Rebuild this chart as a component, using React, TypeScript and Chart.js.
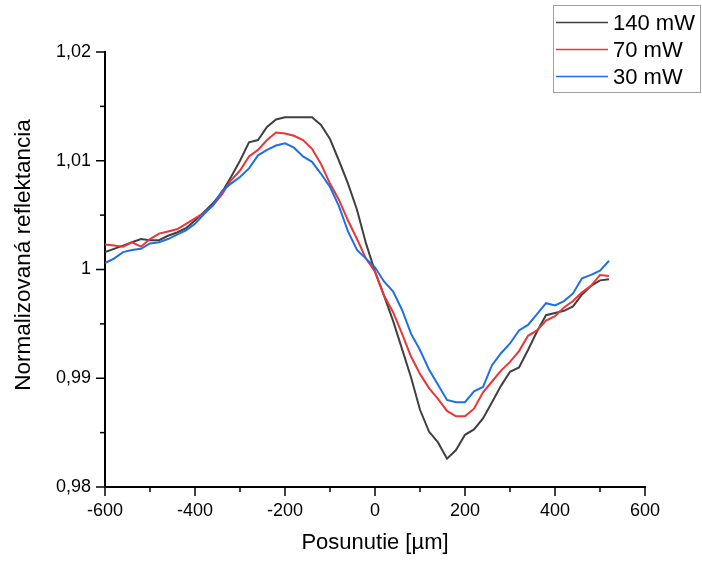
import React, { useEffect, useRef } from "react";
import { Chart, registerables } from "chart.js";

Chart.register(...registerables);

// Position (µm)
const posunutie = [
  -600, -580, -560, -540, -520, -500, -480, -460, -440, -420,
  -400, -380, -360, -340, -320, -300, -280, -260, -240, -220,
  -200, -180, -160, -140, -120, -100, -80, -60, -40, -20,
  0, 20, 40, 60, 80, 100, 120, 140, 160, 180,
  200, 220, 240, 260, 280, 300, 320, 340, 360, 380,
  400, 420, 440, 460, 480, 500, 520,
];

const seriesLabels = ["140 mW", "70 mW", "30 mW"];

const mw140 = [
  1.0016, 1.0019, 1.0022, 1.0025, 1.0028, 1.0027, 1.0027, 1.0031, 1.0034, 1.0038,
  1.0045, 1.0053, 1.0061, 1.0071, 1.0085, 1.0100, 1.0117, 1.0119, 1.0131, 1.0138,
  1.0140, 1.0140, 1.0140, 1.0140, 1.0133, 1.0120, 1.0100, 1.0079, 1.0055, 1.0024,
  0.9998, 0.9976, 0.9953, 0.9927, 0.9901, 0.9871, 0.9851, 0.9841, 0.9826, 0.9834,
  0.9848, 0.9853, 0.9863, 0.9878, 0.9893, 0.9906, 0.9910, 0.9926, 0.9943, 0.9958,
  0.9960, 0.9962, 0.9966, 0.9977, 0.9985, 0.9990, 0.9991,
];

const mw70 = [
  1.0023, 1.0022, 1.0021, 1.0025, 1.0021, 1.0028, 1.0033, 1.0035, 1.0037, 1.0042,
  1.0047, 1.0052, 1.0059, 1.0069, 1.0082, 1.0091, 1.0104, 1.0110, 1.0119, 1.0126,
  1.0125, 1.0123, 1.0119, 1.0111, 1.0097, 1.0079, 1.0064, 1.0045, 1.0028, 1.0010,
  0.9998, 0.9976, 0.9961, 0.9941, 0.9920, 0.9904, 0.9891, 0.9881, 0.9870, 0.9865,
  0.9865, 0.9872, 0.9887, 0.9897, 0.9907, 0.9915, 0.9925, 0.9939, 0.9944, 0.9953,
  0.9957, 0.9965, 0.9971, 0.9979, 0.9985, 0.9995, 0.9994,
];

const mw30 = [
  1.0006, 1.0010, 1.0016, 1.0018, 1.0019, 1.0024, 1.0025, 1.0028, 1.0032, 1.0036,
  1.0042, 1.0051, 1.0059, 1.0072, 1.0079, 1.0085, 1.0093, 1.0105, 1.0110, 1.0114,
  1.0116, 1.0112, 1.0104, 1.0099, 1.0088, 1.0076, 1.0058, 1.0035, 1.0018, 1.0010,
  1.0002, 0.9989, 0.9980, 0.9963, 0.9941, 0.9926, 0.9908, 0.9894, 0.9880, 0.9878,
  0.9878, 0.9888, 0.9892, 0.9912, 0.9923, 0.9932, 0.9944, 0.9949, 0.9959, 0.9969,
  0.9967, 0.9971, 0.9978, 0.9992, 0.9995, 0.9999, 1.0008,
];

const xTickValues = [-600, -500, -400, -300, -200, -100, 0, 100, 200, 300, 400, 500, 600];
const yTickValues = [0.98, 0.985, 0.99, 0.995, 1.0, 1.005, 1.01, 1.015, 1.02];

const xTitle = "Posunutie [µm]";
const yTitle = "Normalizovaná reflektancia";

const FONT = "'Liberation Sans', Arial, sans-serif";
const COLORS = ["#404040", "#ec3535", "#1f6fe6"];

const fmtY = (v: number) => {
  if (Math.abs(v - 1) < 1e-9) return "1";
  return v.toFixed(2).replace(".", ",");
};

const tickPlugin = {
  id: "axisTicks",
  afterDraw(chart: any) {
    const { ctx, chartArea } = chart;
    const xs = chart.scales.x;
    const ys = chart.scales.y;
    ctx.save();
    ctx.strokeStyle = "#000";
    ctx.lineWidth = 1.5;
    xTickValues.forEach((v) => {
      const px = xs.getPixelForValue(v);
      const major = Math.round(v) % 200 === 0;
      ctx.beginPath();
      ctx.moveTo(px, chartArea.bottom);
      ctx.lineTo(px, chartArea.bottom + (major ? 9 : 5));
      ctx.stroke();
    });
    yTickValues.forEach((v, i) => {
      const py = ys.getPixelForValue(v);
      const major = i % 2 === 0;
      ctx.beginPath();
      ctx.moveTo(chartArea.left, py);
      ctx.lineTo(chartArea.left - (major ? 9 : 5), py);
      ctx.stroke();
    });
    ctx.restore();
  },
};

const yTitlePlugin = {
  id: "yTitle",
  afterDraw(chart: any) {
    const { ctx } = chart;
    ctx.save();
    ctx.translate(29.5, 255);
    ctx.rotate(-Math.PI / 2);
    ctx.font = `22.5px ${FONT}`;
    ctx.fillStyle = "#000";
    ctx.textAlign = "center";
    ctx.textBaseline = "alphabetic";
    ctx.fillText(yTitle, 0, 0);
    ctx.restore();
  },
};

const legendPlugin = {
  id: "boxLegend",
  afterDraw(chart: any) {
    const { ctx } = chart;
    const left = 553.5;
    const top = 5.5;
    const w = 147;
    const h = 87;
    ctx.save();
    ctx.strokeStyle = "#a0a0a0";
    ctx.lineWidth = 1;
    ctx.strokeRect(left, top, w, h);
    ctx.font = `22px ${FONT}`;
    ctx.textAlign = "left";
    ctx.textBaseline = "middle";
    chart.data.datasets.forEach((ds: any, i: number) => {
      const cy = 22.5 + i * 27;
      ctx.strokeStyle = ds.borderColor;
      ctx.lineWidth = 1.5;
      ctx.beginPath();
      ctx.moveTo(556, cy);
      ctx.lineTo(608, cy);
      ctx.stroke();
      ctx.fillStyle = "#000";
      ctx.fillText(ds.label, 613, cy + 1);
    });
    ctx.restore();
  },
};

export default function App() {
  const ref = useRef<HTMLCanvasElement | null>(null);

  useEffect(() => {
    if (!ref.current) return;
    const series = [mw140, mw70, mw30];
    const chart = new Chart(ref.current, {
      type: "line",
      data: {
        datasets: series.map((arr, i) => ({
          label: seriesLabels[i],
          data: posunutie.map((x, j) => ({ x, y: arr[j] })),
          borderColor: COLORS[i],
          backgroundColor: COLORS[i],
          borderWidth: 2,
          pointRadius: 0,
          tension: 0,
          fill: false,
          order: 2 - i,
        })),
      },
      options: {
        responsive: false,
        animation: false,
        devicePixelRatio: 1,
        layout: { padding: { top: 52, right: 57, left: 0, bottom: 0 } },
        plugins: {
          legend: { display: false },
          tooltip: { enabled: false },
        },
        scales: {
          x: {
            type: "linear",
            min: -600,
            max: 600,
            grid: { display: false, drawTicks: false },
            border: { display: true, color: "#000", width: 2 },
            ticks: {
              stepSize: 200,
              padding: 13,
              color: "#000",
              font: { family: FONT, size: 18 },
              maxRotation: 0,
              callback: (v: any) => String(v),
            },
            title: {
              display: true,
              text: xTitle,
              color: "#000",
              font: { family: FONT, size: 22 },
              padding: { top: 0, bottom: 5 },
            },
            afterFit: (s: any) => {
              s.height = 74;
            },
          },
          y: {
            type: "linear",
            min: 0.98,
            max: 1.02,
            grid: { display: false, drawTicks: false },
            border: { display: true, color: "#000", width: 2 },
            ticks: {
              stepSize: 0.01,
              padding: 14,
              color: "#000",
              font: { family: FONT, size: 18 },
              callback: (v: any) => fmtY(Number(v)),
            },
            afterFit: (s: any) => {
              s.width = 105;
            },
          },
        },
      },
      plugins: [tickPlugin, yTitlePlugin, legendPlugin],
    });
    return () => chart.destroy();
  }, []);

  return (
    <div style={{ position: "fixed", left: 0, top: 0, width: 702, height: 561, background: "#fff" }}>
      <canvas ref={ref} width={702} height={561} style={{ width: 702, height: 561, display: "block" }} />
    </div>
  );
}
